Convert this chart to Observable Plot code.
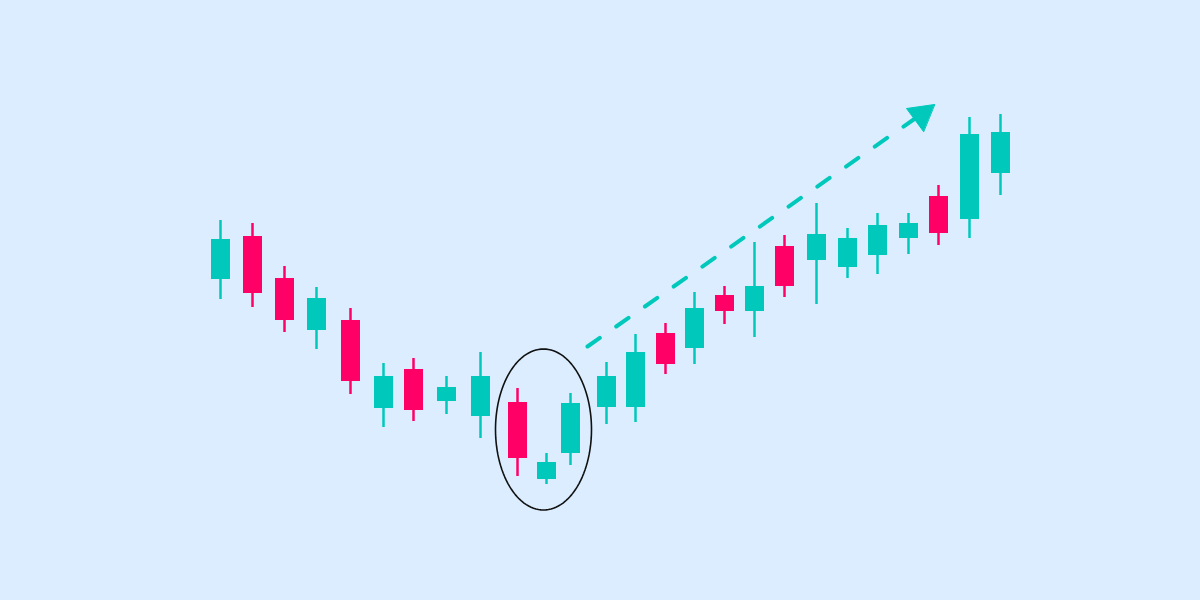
<!DOCTYPE html>
<html>
<head>
<meta charset="utf-8">
<script src="https://cdn.jsdelivr.net/npm/d3@7"></script>
<script src="https://cdn.jsdelivr.net/npm/@observablehq/plot@0.6"></script>
<style>
  html, body { margin: 0; padding: 0; background: #dbedfe; }
  #chart svg { display: block; }
</style>
</head>
<body>
<div id="chart"></div>
<script>
// Session positions and OHLC prices (arbitrary price units)
const session = [220, 252, 284, 316, 350, 383, 413, 446, 480, 517, 546, 570, 606, 635, 665, 694, 724, 754, 784, 816, 847, 877, 908, 938, 969, 1000];
const open    = [321, 364, 322, 270, 280, 192, 231, 199, 184, 198, 121, 147, 193, 193, 267, 252, 305, 289, 354, 340, 333, 345, 362, 404, 381, 427];
const close   = [361, 307, 280, 302, 219, 224, 190, 213, 224, 142, 138, 197, 224, 248, 236, 292, 289, 314, 314, 366, 362, 375, 377, 367, 466, 468];
const high    = [380, 377, 334, 313, 292, 237, 242, 224, 248, 212, 147, 207, 238, 266, 277, 308, 314, 358, 365, 397, 372, 387, 387, 415, 483, 486];
const low     = [301, 293, 268, 251, 206, 173, 179, 186, 162, 124, 116, 135, 176, 178, 226, 236, 276, 263, 303, 296, 322, 326, 346, 355, 362, 405];

// Highlighted reversal pattern (ellipse around three candles)
const highlightCenter = [543, 171];
const highlightRadii = [48, 80.5];

// Trend arrow (start and head vertices)
const trendStart = [587, 254];
const trendEnd = [916, 483];
const arrowHead = [[934, 496], [906, 492], [923, 469]];

const candles = session.map((t, i) => ({
  t, open: open[i], close: close[i], high: high[i], low: low[i],
  up: close[i] >= open[i]
}));

const ellipse = d3.range(0, 361, 3).map(a => {
  const r = a * Math.PI / 180;
  return {x: highlightCenter[0] + highlightRadii[0] * Math.cos(r), y: highlightCenter[1] + highlightRadii[1] * Math.sin(r)};
});

const green = "#00c9bc";
const red = "#ff0066";
const col = d => d.up ? green : red;

const chart = Plot.plot({
  width: 1200,
  height: 600,
  margin: 0,
  style: {background: "#dbedfe"},
  x: {domain: [0, 1200], axis: null},
  y: {domain: [0, 600], axis: null},
  marks: [
    Plot.ruleX(candles, {x: "t", y1: "low", y2: "high", stroke: col, strokeWidth: 2.5}),
    Plot.ruleX(candles, {x: "t", y1: "open", y2: "close", stroke: col, strokeWidth: 19, strokeLinecap: "butt"}),
    Plot.line(ellipse, {x: "x", y: "y", stroke: "#111", strokeWidth: 1.6, curve: "linear-closed"}),
    Plot.line([trendStart, trendEnd], {x: d => d[0], y: d => d[1], stroke: green, strokeWidth: 4, strokeLinecap: "round", strokeDasharray: "15,20"}),
    Plot.line(arrowHead, {x: d => d[0], y: d => d[1], fill: green, stroke: green, strokeWidth: 1, curve: "linear-closed"})
  ]
});
document.getElementById("chart").append(chart);
</script>
</body>
</html>
